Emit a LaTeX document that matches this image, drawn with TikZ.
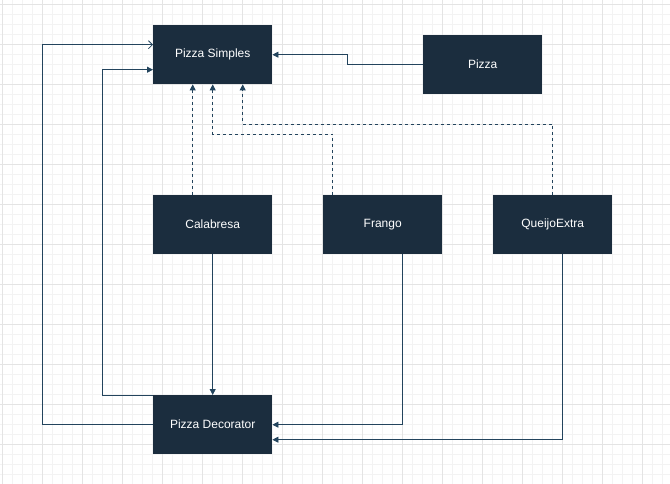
\documentclass[tikz,border=0pt]{standalone}
\usepackage{fontspec}
\setmainfont{Liberation Sans}
\usetikzlibrary{arrows.meta}

\definecolor{boxnavy}{HTML}{1B2D3E}
\definecolor{linenavy}{HTML}{23445D}
\definecolor{gridmajor}{HTML}{E4E4E4}
\definecolor{gridminor}{HTML}{F3F3F3}

\begin{document}
\begin{tikzpicture}[x=1pt, y=-1pt,
  classbox/.style={rectangle, fill=boxnavy, text=white, minimum height=59pt, minimum width=119pt, anchor=north west, font=\fontsize{12}{14}\selectfont},
  link/.style={draw=linenavy, line width=0.8pt, -{Triangle[length=6pt,width=6pt]}},
  openlink/.style={draw=linenavy, line width=0.8pt, -{Straight Barb[length=4pt,width=8pt]}},
  implink/.style={link, dash pattern=on 3pt off 3pt}]

\useasboundingbox (0,0) rectangle (670,484);

%% background grid
\foreach \gx in {2,12,...,662} \draw[gridminor, line width=0.5pt] (\gx,0) -- (\gx,484);
\foreach \gy in {4,14,...,484} \draw[gridminor, line width=0.5pt] (0,\gy) -- (670,\gy);
\foreach \gx in {2,42,...,642} \draw[gridmajor, line width=0.8pt] (\gx,0) -- (\gx,484);
\foreach \gy in {4,44,...,444} \draw[gridmajor, line width=0.8pt] (0,\gy) -- (670,\gy);

\node at (153,25) [classbox] (simples) {Pizza Simples};
\node at (423,35) [classbox] (pizza) {Pizza};

\node at (153,195) [classbox] (calabresa) {Calabresa};
\node at (323,195) [classbox] (frango) {Frango};
\node at (493,195) [classbox] (queijo) {QueijoExtra};

\node at (153,395) [classbox] (decorator) {Pizza Decorator};

%% interface
\draw [link] (pizza.west) -- ++(-75.5,0) |- (simples.east);

%% decorators implement the component
\draw [implink] ([xshift=-20pt]calabresa.north) -- ([xshift=-20pt]simples.south);
\draw [implink] ([xshift=-50pt]frango.north) -- ++(0,-61) -| (simples.south);
\draw [implink] (queijo.north) -- ++(0,-71) -| ([xshift=30pt]simples.south);

%% decorator wraps the component
\draw [openlink] (decorator.west) -- ++(-111,0) |- ([yshift=10pt]simples.west);
\draw [link] (decorator.north west) -- ++(-51,0) |- ([yshift=-15pt]simples.west);

%% concrete decorators
\draw [link] (calabresa.south) -- (decorator.north);
\draw [link] ([xshift=20pt]frango.south) |- (decorator.east);
\draw [link] ([xshift=10pt]queijo.south) |- ([yshift=-15pt]decorator.east);

\end{tikzpicture}
\end{document}
